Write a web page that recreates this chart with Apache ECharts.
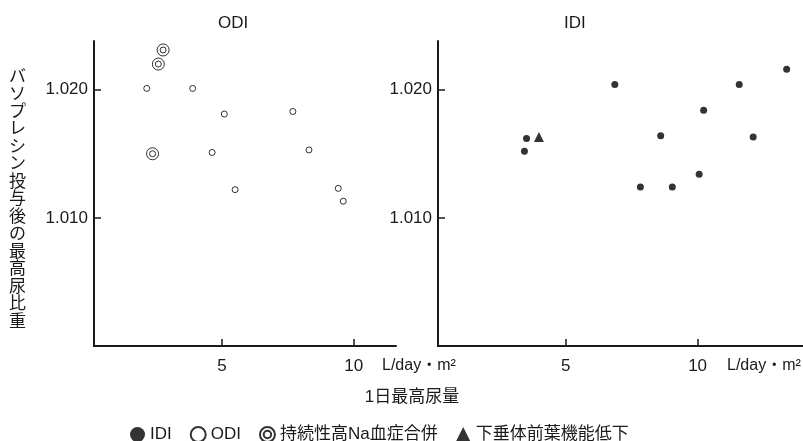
<!DOCTYPE html>
<html>
<head>
<meta charset="utf-8">
<title>ODI / IDI</title>
<script src="https://cdn.jsdelivr.net/npm/echarts@6/dist/echarts.min.js"></script>
<style>
  html, body { margin: 0; padding: 0; background: #fff; }
  #chart { width: 803px; height: 441px; }
</style>
</head>
<body>
<div id="chart"></div>
<script>
// 1日最高尿量 (L/day・m²) vs バソプレシン投与後の最高尿比重
const odiPoints = [
  [2.15, 1.0201], [3.89, 1.0201], [5.09, 1.0181], [7.69, 1.0183],
  [4.63, 1.0151], [8.30, 1.0153], [5.50, 1.0122], [9.41, 1.0123], [9.60, 1.0113]
];
const hyperNaPoints = [[2.77, 1.0231], [2.59, 1.0220], [2.37, 1.0150]];
const idiPoints = [
  [6.86, 1.0204], [13.38, 1.0216], [11.58, 1.0204], [10.23, 1.0184],
  [8.60, 1.0164], [12.11, 1.0163], [3.51, 1.0162], [3.43, 1.0152],
  [7.83, 1.0124], [9.04, 1.0124], [10.06, 1.0134]
];
const hypopitPoints = [[3.98, 1.0163]];

const xTicks = [5, 10];
const yTicks = [1.010, 1.020];
const seriesNames = ['IDI', 'ODI', '持続性高Na血症合併', '下垂体前葉機能低下'];
const yName = 'バソプレシン投与後の最高尿比重';

const FONT = "'Liberation Sans', 'Noto Sans CJK JP', sans-serif";
const INK = '#1a1a1a';
const doubleCircle = 'path://M0,-10A10,10 0 1,1 0,10A10,10 0 1,1 0,-10ZM0,-5A5,5 0 1,1 0,5A5,5 0 1,1 0,-5Z';

function makeX(gridIndex, max) {
  return {
    type: 'value', gridIndex, min: 0.15, max,
    axisLine: { show: true, lineStyle: { color: INK, width: 2 } },
    axisTick: { show: true, inside: true, length: 7, customValues: xTicks, lineStyle: { color: INK, width: 1.5 } },
    axisLabel: { customValues: xTicks, fontSize: 17, color: INK, margin: 12, fontFamily: FONT },
    splitLine: { show: false }
  };
}

function makeY(gridIndex, withName) {
  const axis = {
    type: 'value', gridIndex, min: 1.000, max: 1.0238,
    axisLine: { show: true, lineStyle: { color: INK, width: 2 } },
    axisTick: { show: true, inside: true, length: 7, customValues: yTicks, lineStyle: { color: INK, width: 1.5 } },
    axisLabel: { customValues: yTicks, formatter: v => v.toFixed(3), fontSize: 17, color: INK, margin: 6, fontFamily: FONT },
    splitLine: { show: false }
  };
  if (withName) {
    // one character per line, with a short blank line on top to push the column down a little
    axis.name = '{gap|}\n' + yName.split('').join('\n');
    axis.nameLocation = 'middle';
    axis.nameRotate = 0;
    axis.nameGap = 68;
    axis.nameTextStyle = {
      fontSize: 17, lineHeight: 17.5, color: INK, fontFamily: FONT,
      rich: { gap: { lineHeight: 12, height: 12 } }
    };
  }
  return axis;
}

const chart = echarts.init(document.getElementById('chart'));
chart.setOption({
  animation: false,
  textStyle: { fontFamily: FONT },
  title: [
    { text: 'ODI', left: 213, top: 10, textStyle: { fontSize: 17, fontWeight: 'normal', color: INK, fontFamily: FONT } },
    { text: 'IDI', left: 559, top: 10, textStyle: { fontSize: 17, fontWeight: 'normal', color: INK, fontFamily: FONT } }
  ],
  grid: [
    { left: 94, top: 41, width: 302, height: 305 },
    { left: 438, top: 41, width: 365, height: 305 }
  ],
  xAxis: [makeX(0, 11.6), makeX(1, 14)],
  yAxis: [makeY(0, true), makeY(1, false)],
  legend: {
    data: seriesNames,
    left: 125, top: 421,
    itemWidth: 15, itemHeight: 15, itemGap: 18,
    textStyle: { fontSize: 17, color: INK, fontFamily: FONT }
  },
  graphic: [
    { type: 'text', style: { text: 'L/day・m²', x: 382, y: 366, verticalAlign: 'middle', font: '16px ' + FONT, fill: INK } },
    { type: 'text', style: { text: 'L/day・m²', x: 727, y: 366, verticalAlign: 'middle', font: '16px ' + FONT, fill: INK } },
    { type: 'text', style: { text: '1日最高尿量', x: 412, y: 397, align: 'center', verticalAlign: 'middle', font: '17px ' + FONT, fill: INK } }
  ],
  series: [
    {
      name: 'IDI', type: 'scatter', xAxisIndex: 1, yAxisIndex: 1,
      symbol: 'circle', symbolSize: 7,
      itemStyle: { color: '#000' },
      data: idiPoints
    },
    {
      name: 'ODI', type: 'scatter', xAxisIndex: 0, yAxisIndex: 0,
      symbol: 'circle', symbolSize: 6,
      itemStyle: { color: '#fff', borderColor: '#000', borderWidth: 1 },
      data: odiPoints
    },
    {
      name: '持続性高Na血症合併', type: 'scatter', xAxisIndex: 0, yAxisIndex: 0,
      symbol: doubleCircle, symbolSize: 12,
      itemStyle: { color: '#fff', borderColor: '#000', borderWidth: 1 },
      data: hyperNaPoints
    },
    {
      name: '下垂体前葉機能低下', type: 'scatter', xAxisIndex: 1, yAxisIndex: 1,
      symbol: 'triangle', symbolSize: 10,
      itemStyle: { color: '#000' },
      data: hypopitPoints
    }
  ]
});
</script>
</body>
</html>
